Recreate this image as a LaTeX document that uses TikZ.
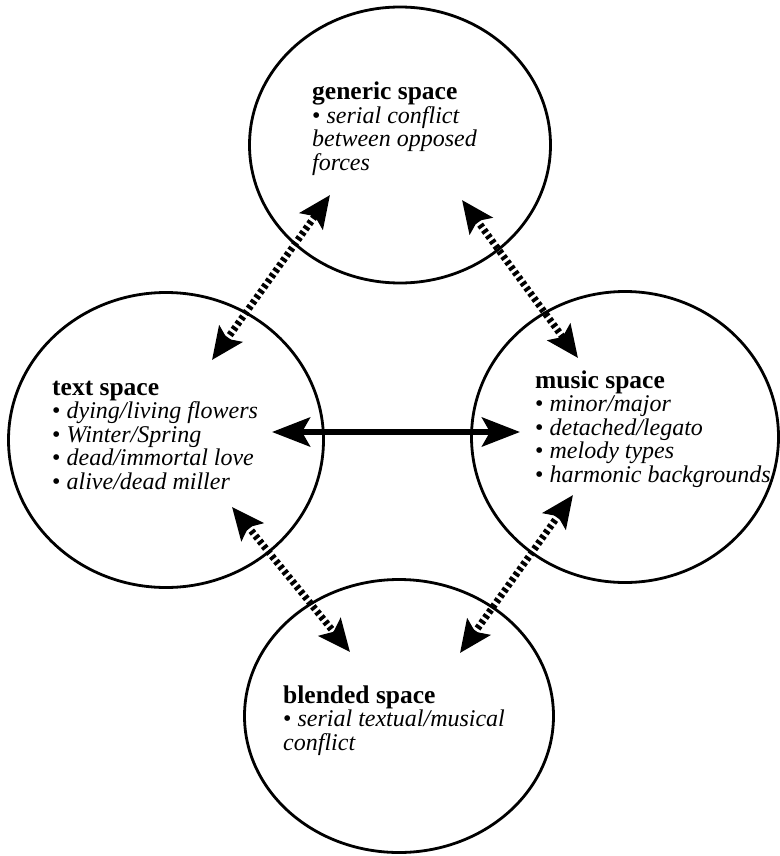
\documentclass[tikz,border=0pt]{standalone}
\usepackage{fontspec}
\setmainfont{Liberation Serif}
\usetikzlibrary{shapes.geometric,arrows.meta}

\tikzset{
  space/.style={draw, ellipse, line width=2.8pt, inner sep=0pt},
  label/.style={anchor=base west, inner sep=0pt},
  mapping/.style={line width=7pt, dash pattern=on 3.5pt off 3pt,
    {Stealth[length=32pt,width=28pt,inset=6pt]}-{Stealth[length=32pt,width=28pt,inset=6pt]}},
  crossmap/.style={line width=6pt,
    {Stealth[length=38pt,width=29pt,inset=8pt]}-{Stealth[length=38pt,width=29pt,inset=8pt]}}
}
\newcommand{\spacetext}[1]{\parbox[t]{320pt}{\raggedright\fontsize{24}{23.5}\selectfont #1}}
\newcommand{\itm}[1]{\textbullet\ \textit{#1}}
\newcommand{\ttl}[1]{{\fontsize{25.5}{23.5}\selectfont\textbf{#1}}}

\begin{document}
\begin{tikzpicture}[x=1pt,y=-1pt]
  \useasboundingbox (0,0) rectangle (779,856);

  % the four mental spaces
  \node[space, minimum width=301pt, minimum height=276pt] (generic) at (400,145) {};
  \node[space, minimum width=315pt, minimum height=295pt] (text) at (166,440) {};
  \node[space, minimum width=307pt, minimum height=291pt] (music) at (625,437) {};
  \node[space, minimum width=309pt, minimum height=273pt] (blended) at (399,716) {};

  % contents of each space
  \node[label] (genericlbl) at (312,100) {\spacetext{\ttl{generic space}\\
    \itm{serial conflict}\\ \textit{between opposed}\\ \textit{forces}}};
  \node[label] (textlbl) at (52,395) {\spacetext{\ttl{text space}\\
    \itm{dying/living flowers}\\ \itm{Winter/Spring}\\
    \itm{dead/immortal love}\\ \itm{alive/dead miller}}};
  \node[label] (musiclbl) at (535,388) {\spacetext{\ttl{music space}\\
    \itm{minor/major}\\ \itm{detached/legato}\\
    \itm{melody types}\\ \itm{harmonic backgrounds}}};
  \node[label] (blendedlbl) at (283,703) {\spacetext{\ttl{blended space}\\
    \itm{serial textual/musical}\\ \textit{conflict}}};

  % arrow ends inside the spaces
  \coordinate (tg-t) at (212,360);
  \coordinate (tg-g) at (330,195);
  \coordinate (gm-g) at (462,200);
  \coordinate (gm-m) at (578,358);
  \coordinate (tb-t) at (232,507);
  \coordinate (tb-b) at (350,652);
  \coordinate (mb-m) at (573,495);
  \coordinate (mb-b) at (460,653);
  \coordinate (tm-t) at (272,432);
  \coordinate (tm-m) at (520,432);

  % projections between spaces
  \draw[mapping] (tg-t) -- (tg-g);
  \draw[mapping] (gm-g) -- (gm-m);
  \draw[mapping] (tb-t) -- (tb-b);
  \draw[mapping] (mb-m) -- (mb-b);

  % cross-space mapping
  \draw[crossmap] (tm-t) -- (tm-m);
\end{tikzpicture}
\end{document}
